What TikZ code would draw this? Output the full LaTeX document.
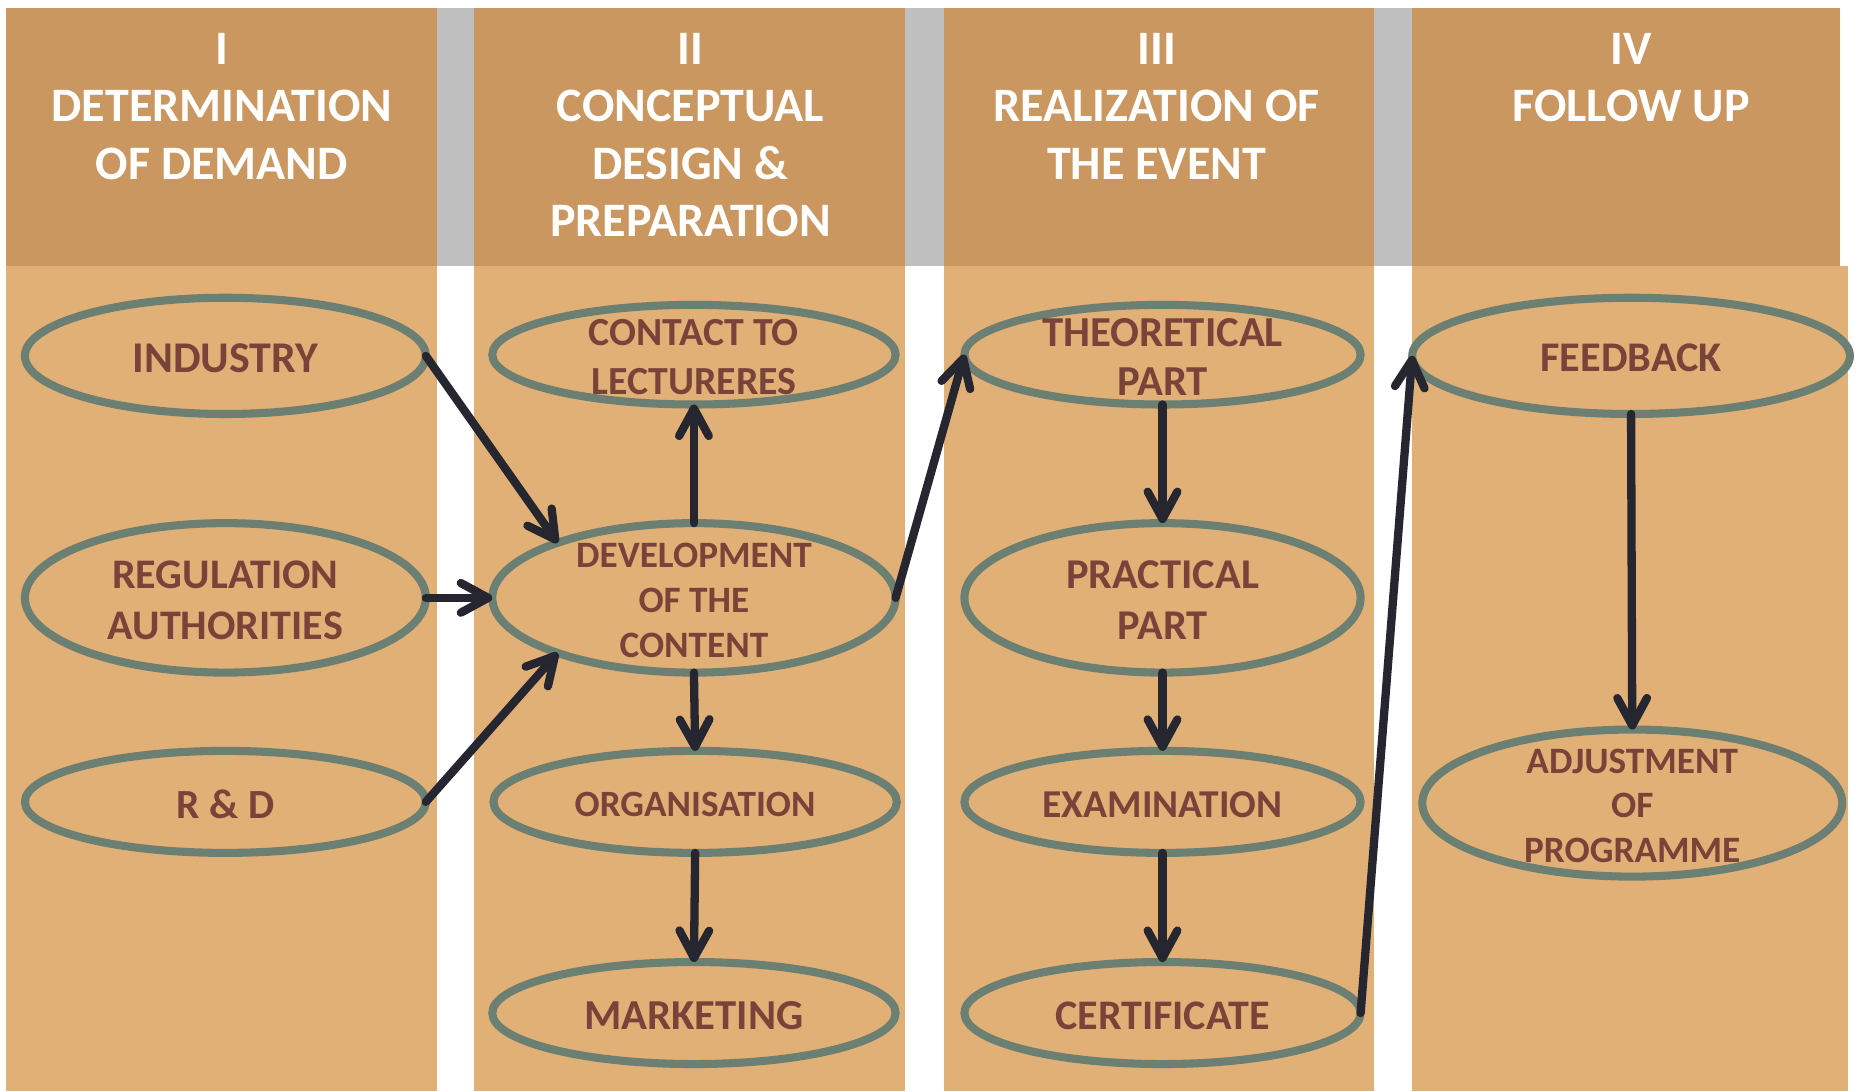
\documentclass[tikz,border=0pt]{standalone}
\usepackage{fontspec}
\setmainfont{Carlito}
\usetikzlibrary{shapes.geometric,arrows.meta}
\definecolor{hdr}{HTML}{C9975F}
\definecolor{bdy}{HTML}{E1B077}
\definecolor{gapc}{HTML}{BFBFBF}
\definecolor{rim}{HTML}{6B7F73}
\definecolor{txt}{HTML}{78443A}
\definecolor{arr}{HTML}{262631}
\tikzset{
  hdrtext/.style={text=white, font=\bfseries\fontsize{40.5}{48.3}\selectfont, align=center, anchor=north, inner sep=0pt},
  oval/.style n args={2}{ellipse, draw=rim, line width=6.8pt, inner sep=0pt, outer sep=0pt, minimum width=#1, minimum height=#2},
  lbl/.style={text=txt, align=center, inner sep=0pt, yshift=-2pt, font=\bfseries\fontsize{35.5}{42}\selectfont},
  flow/.style={draw=arr, line width=7pt, line cap=round, -{Straight Barb[length=23pt,width=25pt,round]}}
}
\begin{document}
\begin{tikzpicture}[x=1pt,y=-1pt]
\useasboundingbox (0,0) rectangle (1568,920);
% columns
\fill[bdy] (5,224) rectangle (368,920);
\fill[bdy] (400,224) rectangle (763,920);
\fill[bdy] (796,224) rectangle (1158,920);
\fill[bdy] (1190,224) rectangle (1558,920);
\fill[hdr] (5,7) rectangle (368,224);
\fill[hdr] (400,7) rectangle (763,224);
\fill[hdr] (796,7) rectangle (1158,224);
\fill[hdr] (1190,7) rectangle (1551,224);
\fill[gapc] (368,7) rectangle (400,224);
\fill[gapc] (763,7) rectangle (796,224);
\fill[gapc] (1158,7) rectangle (1190,224);
% headers
\node[hdrtext] (h1) at (187,28) {I\\DETERMINATION\\OF DEMAND};
\node[hdrtext] (h2) at (582,28) {II\\CONCEPTUAL\\DESIGN \&\\PREPARATION};
\node[hdrtext] (h3) at (975,28) {III\\REALIZATION OF\\THE EVENT};
\node[hdrtext] (h4) at (1375,28) {IV\\FOLLOW UP};
% column I
\node[oval={338}{98}] (ind) at (190,300) {};
\node[lbl,font=\bfseries\fontsize{37}{42}\selectfont] (indt) at (ind) {INDUSTRY};
\node[oval={338}{126}] (reg) at (190,504) {};
\node[lbl,font=\bfseries\fontsize{35.5}{43}\selectfont] (regt) at (reg) {REGULATION\\AUTHORITIES};
\node[oval={338}{86}] (rd) at (190,676) {};
\node[lbl,font=\bfseries\fontsize{35}{42}\selectfont] (rdt) at (rd) {R \& D};
% column II
\node[oval={340}{84}] (con) at (585,299) {};
\node[lbl,font=\bfseries\fontsize{33.6}{41}\selectfont] (cont) at (con) {CONTACT TO\\LECTURERES};
\node[oval={340}{126}] (dev) at (585,504) {};
\node[lbl,font=\bfseries\fontsize{31.4}{38}\selectfont] (devt) at (dev) {DEVELOPMENT\\OF THE\\CONTENT};
\node[oval={340}{86}] (org) at (586,676) {};
\node[lbl,font=\bfseries\fontsize{31.3}{36}\selectfont] (orgt) at (org) {ORGANISATION};
\node[oval={340}{86}] (mkt) at (585,854) {};
\node[lbl,font=\bfseries\fontsize{36}{42}\selectfont] (mktt) at (mkt) {MARKETING};
% column III
\node[oval={334}{84}] (theo) at (980,299) {};
\node[lbl,font=\bfseries\fontsize{36}{42}\selectfont] (theot) at (theo) {THEORETICAL\\PART};
\node[oval={334}{126}] (prac) at (980,504) {};
\node[lbl,font=\bfseries\fontsize{35.8}{43}\selectfont] (pract) at (prac) {PRACTICAL\\PART};
\node[oval={334}{86}] (exam) at (980,676) {};
\node[lbl,font=\bfseries\fontsize{33.3}{40}\selectfont] (examt) at (exam) {EXAMINATION};
\node[oval={334}{86}] (cert) at (980,854) {};
\node[lbl,font=\bfseries\fontsize{35.5}{42}\selectfont] (certt) at (cert) {CERTIFICATE};
% column IV
\node[oval={369}{98}] (feed) at (1375,300) {};
\node[lbl,font=\bfseries\fontsize{35.6}{42}\selectfont] (feedt) at (feed) {FEEDBACK};
\node[oval={354}{124}] (adj) at (1376,677) {};
\node[lbl,font=\bfseries\fontsize{31.4}{37.5}\selectfont] (adjt) at (adj) {ADJUSTMENT\\OF\\PROGRAMME};
% connectors
\draw[flow] (ind.east) -- (dev.158);
\draw[flow] (reg.east) -- (dev.west);
\draw[flow] (rd.east) -- (dev.202);
\draw[flow] (dev.north) -- (con.south);
\draw[flow] (dev.south) -- (org.north);
\draw[flow] (org.south) -- (mkt.north);
\draw[flow] (dev.east) -- (theo.west);
\draw[flow] (theo.south) -- (prac.north);
\draw[flow] (prac.south) -- (exam.north);
\draw[flow] (exam.south) -- (cert.north);
\draw[flow] (cert.east) -- (feed.west);
\draw[flow] (feed.south) -- (adj.north);
\end{tikzpicture}
\end{document}
